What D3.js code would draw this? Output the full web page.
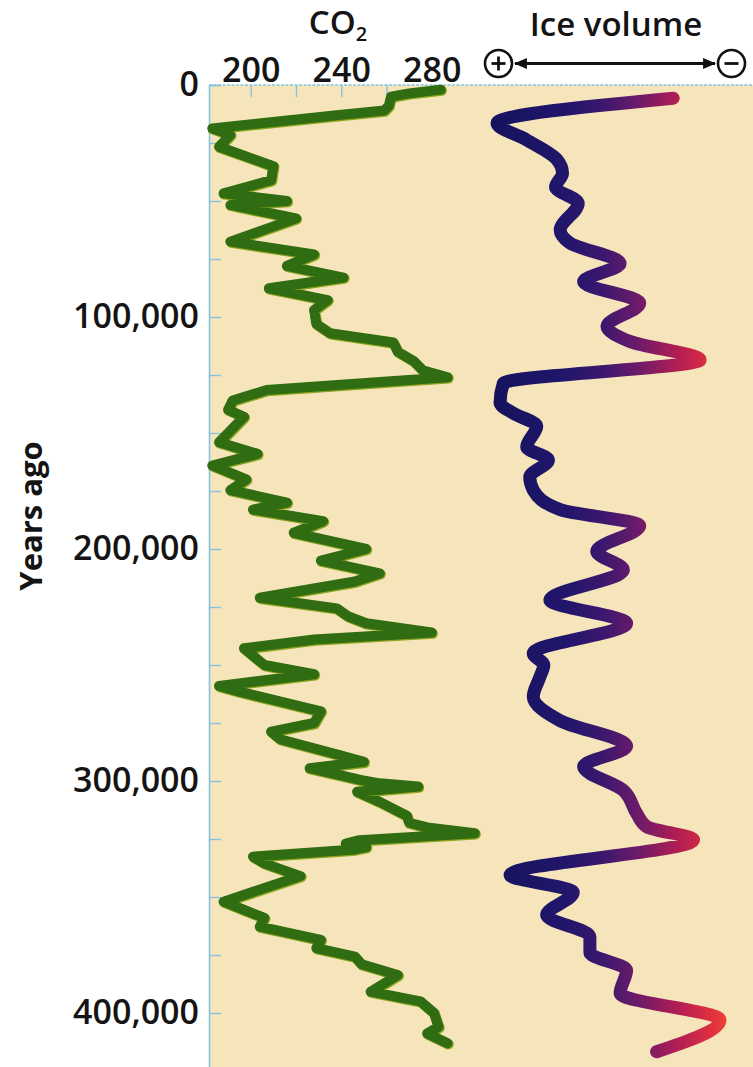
<!DOCTYPE html>
<html>
<head>
<meta charset="utf-8">
<script src="https://cdn.jsdelivr.net/npm/d3@7"></script>
<style>
  html, body { margin: 0; padding: 0; background: #ffffff; }
  svg { display: block; }
  text { font-family: "Open Sans", "Noto Sans", sans-serif; fill: #141414; }
</style>
</head>
<body>
<svg id="chart" width="753" height="1067"></svg>
<script>
// Age of each CO2 sample, in years before present
const co2Years = [
  2000, 3600, 5000, 9000, 11000, 13000, 18700, 21500, 26600, 35000,
  41000, 46700, 50000, 51700, 57500, 67500, 73000, 78000, 83000, 87600,
  92700, 97000, 103000, 107000, 111000, 115000, 119000, 123000, 126000, 131500,
  136000, 140000, 143000, 154000, 159000, 164000, 170000, 174600, 180000, 183000,
  188000, 193000, 200000, 205000, 210500, 214000, 221000, 225600, 229000, 232000,
  236000, 239000, 242800, 250000, 254000, 259000, 261500, 270000, 275000, 278700,
  282000, 289000, 291700, 294500, 299600, 301000, 302400, 304600, 309000, 315000,
  318000, 320000, 322500, 325500, 327000, 328500, 329500, 332600, 335500, 341000,
  352000, 359000, 362800, 368500, 372000, 375700, 379000, 383600, 390800, 395000,
  400000, 406000, 408800, 413000
];
// Atmospheric CO2 (ppm) at those ages
const co2Ppm = [
  284, 270, 262, 261, 259, 238, 183, 191, 186, 210,
  209, 188, 216, 191, 220, 191, 228, 216, 241, 208,
  234, 228, 229, 235, 263, 265, 272, 276, 287, 207,
  192, 190, 197, 186, 203, 183, 198, 191, 216, 201,
  232, 219, 251, 231, 257, 246, 204, 238, 243, 251,
  280, 228, 197, 206, 228, 186, 195, 231, 228, 209,
  213, 240, 250, 226, 249, 257, 274, 247, 257, 269,
  270, 278, 299, 248, 242, 251, 246, 201, 206, 222,
  188, 206, 204, 231, 229, 246, 249, 265, 253, 275,
  281, 283, 278, 287
];

// Age of each ice-volume reading, in years before present
const iceYears = [
  5700, 16500, 23700, 32000, 38000, 44000, 51000, 62500, 68000, 76900,
  84800, 94000, 104000, 110600, 118500, 128600, 137000, 141500, 147000, 156000,
  161600, 169000, 174600, 183000, 190000, 201000, 209000, 222000, 232000, 245000,
  250000, 255000, 263700, 274000, 285000, 293800, 304000, 314000, 319700, 325400,
  340500, 348000, 357800, 367000, 374000, 381500, 391500, 403000, 416700
];
// Relative global ice volume (100 = most ice, 0 = least)
const iceVolume = [
  24.7, 100, 87.3, 74.5, 72, 75, 65.3, 73, 69, 47.4,
  63, 39, 53, 43, 13.2, 97.3, 98.7, 93, 83, 87.3,
  78, 86, 84.5, 73, 39, 57.4, 46, 77.4, 44.6, 84.5,
  80, 81.6, 84.5, 73, 44.6, 63, 46, 40.3, 36, 16,
  94.4, 67.4, 78.8, 60.3, 60.3, 44.6, 47.4, 4.7, 31.8
];

const yearTicks = [0, 100000, 200000, 300000, 400000];
const co2Ticks = [200, 240, 280];

const svg = d3.select("#chart");
const W = 753, H = 1067;
const panel = { left: 209, top: 85 };
const labelFont = "'Open Sans', 'Noto Sans', sans-serif";

const y = d3.scaleLinear().domain([0, 425000]).range([85, 85 + 4.25 * 232]);
const xCo2 = d3.scaleLinear().domain([180, 300]).range([205.5, 477]);
const xIce = d3.scaleLinear().domain([100, 0]).range([497, 731]);

// Paper-coloured plotting panel
svg.append("rect")
  .attr("x", panel.left).attr("y", panel.top)
  .attr("width", W - panel.left).attr("height", H - panel.top)
  .attr("fill", "#f6e4bb");

const axisBlue = "#86c3df";

// Left edge with minor ticks every 25,000 years
const leftAxis = svg.append("g")
  .attr("transform", `translate(${panel.left},0)`)
  .call(d3.axisRight(y).tickValues(d3.range(0, 425001, 25000)).tickSize(12).tickFormat(""));
leftAxis.select(".domain").attr("stroke", axisBlue).attr("stroke-width", 1.6);
leftAxis.selectAll(".tick line").attr("stroke", axisBlue).attr("stroke-width", 1.4);

// Top edge with CO2 ticks every 20 ppm
svg.append("line")
  .attr("x1", panel.left).attr("x2", W)
  .attr("y1", panel.top).attr("y2", panel.top)
  .attr("stroke", axisBlue).attr("stroke-width", 1.6)
  .attr("stroke-dasharray", "3,1.5");
const topAxis = svg.append("g")
  .attr("transform", `translate(0,${panel.top})`)
  .call(d3.axisBottom(xCo2).tickValues([200, 220, 240, 260, 280]).tickSize(12).tickFormat(""));
topAxis.select(".domain").remove();
topAxis.selectAll(".tick line").attr("stroke", axisBlue).attr("stroke-width", 1.4);

// Age labels
const yLabels = svg.append("g")
  .attr("transform", `translate(${panel.left},0)`)
  .call(d3.axisLeft(y).tickValues(yearTicks).tickSize(0).tickPadding(10).tickFormat(d3.format(",")));
yLabels.select(".domain").remove();
yLabels.selectAll(".tick text")
  .attr("font-size", 34).attr("font-weight", 600)
  .attr("font-family", labelFont)
  .attr("fill", "#141414").attr("dy", "0.32em");

// CO2 labels
const xLabels = svg.append("g")
  .attr("transform", `translate(0,82)`)
  .call(d3.axisTop(xCo2).tickValues(co2Ticks).tickSize(0).tickPadding(0).tickFormat(d3.format("d")));
xLabels.select(".domain").remove();
xLabels.selectAll(".tick text")
  .attr("font-size", 34).attr("font-weight", 600)
  .attr("font-family", labelFont)
  .attr("fill", "#141414").attr("dy", 0);

// Titles
const co2Title = svg.append("text")
  .attr("x", 338).attr("y", 34)
  .attr("text-anchor", "middle")
  .attr("font-size", 33).attr("font-weight", 600);
co2Title.append("tspan").text("CO");
co2Title.append("tspan").attr("dy", 7).attr("font-size", 20).text("2");

svg.append("text")
  .attr("x", 616).attr("y", 36)
  .attr("text-anchor", "middle")
  .attr("font-size", 33).attr("font-weight", 600)
  .text("Ice volume");

svg.append("text")
  .attr("transform", "translate(42,516) rotate(-90)")
  .attr("text-anchor", "middle")
  .attr("font-size", 31).attr("font-weight", 700)
  .text("Years ago");

// Ice-volume direction arrow: more ice (+) to less ice (−)
const arrowY = 63.5;
const defs = svg.append("defs");
defs.append("marker")
  .attr("id", "head").attr("viewBox", "0 0 12 10")
  .attr("refX", 11).attr("refY", 5)
  .attr("markerWidth", 13).attr("markerHeight", 11)
  .attr("markerUnits", "userSpaceOnUse")
  .attr("orient", "auto-start-reverse")
  .append("path").attr("d", "M0,0 L12,5 L0,10 Z").attr("fill", "#111");
svg.append("line")
  .attr("x1", 515).attr("x2", 715)
  .attr("y1", arrowY).attr("y2", arrowY)
  .attr("stroke", "#111").attr("stroke-width", 2.8)
  .attr("marker-start", "url(#head)").attr("marker-end", "url(#head)");
[[498.5, "+"], [731.5, "−"]].forEach(([cx, sign]) => {
  svg.append("circle").attr("cx", cx).attr("cy", arrowY).attr("r", 13.5)
    .attr("fill", "#fff").attr("stroke", "#111").attr("stroke-width", 2.6);
  svg.append("line").attr("x1", cx - 7).attr("x2", cx + 7)
    .attr("y1", arrowY).attr("y2", arrowY).attr("stroke", "#111").attr("stroke-width", 2.8);
  if (sign === "+") {
    svg.append("line").attr("x1", cx).attr("x2", cx)
      .attr("y1", arrowY - 7).attr("y2", arrowY + 7).attr("stroke", "#111").attr("stroke-width", 2.8);
  }
});

// CO2 record
const co2Data = co2Years.map((t, i) => ({ t, v: co2Ppm[i] }));
const co2Line = d3.line().x(d => xCo2(d.v)).y(d => y(d.t)).curve(d3.curveLinear);
svg.append("path")
  .datum(co2Data)
  .attr("d", co2Line)
  .attr("transform", "translate(0.8,1)")
  .attr("fill", "none").attr("stroke", "#8aa41c").attr("stroke-width", 10.5)
  .attr("stroke-linejoin", "round").attr("stroke-linecap", "round");
svg.append("path")
  .datum(co2Data)
  .attr("d", co2Line)
  .attr("fill", "none").attr("stroke", "#2f6c12").attr("stroke-width", 10)
  .attr("stroke-linejoin", "round").attr("stroke-linecap", "round");

// Ice-volume record, shaded from blue (more ice) to red (less ice)
const grad = defs.append("linearGradient")
  .attr("id", "iceGrad").attr("gradientUnits", "userSpaceOnUse")
  .attr("x1", xIce(100)).attr("x2", xIce(0)).attr("y1", 0).attr("y2", 0);
[[0, "#16135e"], [0.3, "#22166c"], [0.45, "#3a186e"], [0.6, "#6c1a6a"],
 [0.78, "#b41e52"], [0.92, "#e2303f"], [1, "#ec4a32"]].forEach(([o, c]) =>
  grad.append("stop").attr("offset", o).attr("stop-color", c));

const iceData = iceYears.map((t, i) => ({ t, v: iceVolume[i] }));
const iceLine = d3.line().x(d => xIce(d.v)).y(d => y(d.t)).curve(d3.curveMonotoneY);
svg.append("path")
  .datum(iceData)
  .attr("d", iceLine)
  .attr("fill", "none").attr("stroke", "url(#iceGrad)").attr("stroke-width", 13)
  .attr("stroke-linejoin", "round").attr("stroke-linecap", "round");
</script>
</body>
</html>
